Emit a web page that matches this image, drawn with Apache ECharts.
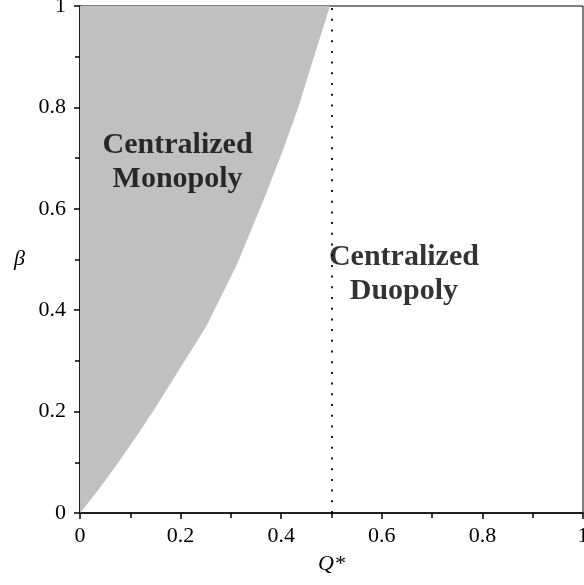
<!DOCTYPE html>
<html style="height: 100%">
<head>
    <meta charset="UTF-8">
    <title>Centralized Monopoly / Duopoly</title>
    <script src="https://cdn.jsdelivr.net/npm/echarts/dist/echarts.min.js"></script>
</head>
<body style="height: 100%; margin: 0">
    <div id="main" style="width: 584px; height: 585px"></div>
    <script type="text/javascript">
        // boundary of the monopoly region
        var boundaryQ    = [0, 0.036, 0.073, 0.11, 0.145, 0.179, 0.252, 0.312, 0.368, 0.405, 0.434, 0.463, 0.497];
        var boundaryBeta = [0, 0.045, 0.095, 0.148, 0.2, 0.254, 0.37, 0.49, 0.625, 0.72, 0.8, 0.893, 1.0];
        var thresholdQ = 0.5;
        var regionNames = ['Centralized\nMonopoly', 'Centralized\nDuopoly'];
        var regionQ = [0.194, 0.644];
        var regionBeta = [0.692, 0.471];

        var serif = '"Liberation Serif", "Times New Roman", serif';
        var myChart = echarts.init(document.getElementById('main'));

        var pts = boundaryQ.map(function (q, i) { return [q, boundaryBeta[i]]; });

        var option = {
            animation: false,
            grid: {
                left: 80, right: 1, top: 6, bottom: 72,
                outerBoundsMode: 'none',
                containLabel: false,
                show: true, borderColor: '#000', borderWidth: 1
            },
            xAxis: {
                type: 'value', min: 0, max: 1, interval: 0.2,
                name: 'Q*', nameLocation: 'middle', nameGap: 40,
                nameTextStyle: { fontFamily: serif, fontStyle: 'italic', fontSize: 22, color: '#000' },
                axisLine: { lineStyle: { color: '#000', width: 1.5 } },
                axisTick: { length: 6, lineStyle: { color: '#000', width: 1.5 } },
                minorTick: { show: true, splitNumber: 2, length: 5, lineStyle: { color: '#000', width: 1.5 } },
                splitLine: { show: false },
                axisLabel: { fontFamily: serif, fontSize: 22, color: '#000', margin: 12,
                    formatter: function (v) { return String(+v.toFixed(1)); } }
            },
            yAxis: {
                type: 'value', min: 0, max: 1, interval: 0.2,
                name: 'β', nameLocation: 'middle', nameRotate: 0, nameGap: 55,
                nameTextStyle: { fontFamily: serif, fontStyle: 'italic', fontSize: 22, color: '#000' },
                axisLine: { lineStyle: { color: '#000', width: 1.5 } },
                axisTick: { length: 6, lineStyle: { color: '#000', width: 1.5 } },
                minorTick: { show: true, splitNumber: 2, length: 5, lineStyle: { color: '#000', width: 1.5 } },
                splitLine: { show: false },
                axisLabel: { fontFamily: serif, fontSize: 22, color: '#000', margin: 14,
                    formatter: function (v) { return String(+v.toFixed(1)); } }
            },
            series: [
                {
                    // gray region: left of the boundary curve
                    type: 'custom',
                    data: [0],
                    z: 1,
                    renderItem: function (params, api) {
                        var poly = pts.map(function (p) { return api.coord(p); });
                        poly.push(api.coord([0, 1]));
                        return {
                            type: 'polygon',
                            shape: { points: poly },
                            style: { fill: '#c0c0c0', stroke: null }
                        };
                    },
                    silent: true
                },
                {
                    type: 'line',
                    data: [],
                    markLine: {
                        silent: true,
                        symbol: 'none',
                        label: { show: false },
                        lineStyle: { color: '#000', width: 1.8, type: [2, 8.7] },
                        data: [[{ coord: [thresholdQ, 0] }, { coord: [thresholdQ, 1] }]]
                    }
                },
                {
                    type: 'scatter',
                    symbolSize: 0,
                    z: 5,
                    data: regionNames.map(function (n, i) { return { value: [regionQ[i], regionBeta[i]], name: n }; }),
                    label: {
                        show: true, position: 'inside',
                        formatter: function (p) { return p.name; },
                        fontFamily: serif, fontWeight: 'bold', fontSize: 30, lineHeight: 34,
                        color: '#000', textBorderWidth: 0, align: 'center', verticalAlign: 'middle'
                    },
                    silent: true
                }
            ]
        };

        myChart.setOption(option);
    </script>
</body>
</html>
